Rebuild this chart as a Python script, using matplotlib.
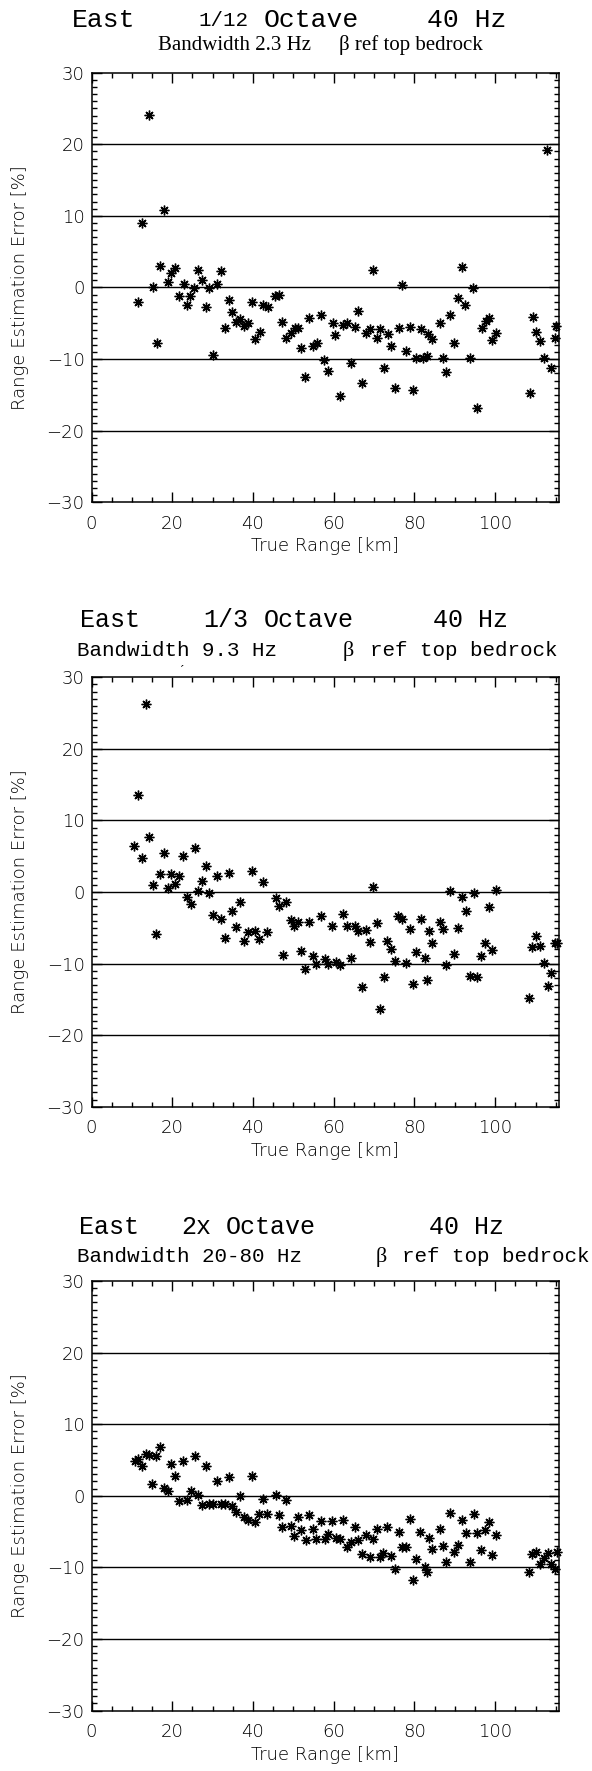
import numpy as np
import matplotlib.pyplot as plt

# True range [km] and range estimation error [%] for the three filter bands
range_12 = [11.4, 12.4, 14.2, 15.2, 16.2, 17.0, 18.0, 18.9, 19.8, 20.8, 21.7, 22.8, 23.6, 24.5, 25.5,
            26.4, 27.4, 28.3, 29.2, 30.2, 31.1, 32.0, 33.0, 34.0, 34.9, 35.9, 36.9, 37.7, 38.8, 39.7,
            40.6, 41.7, 42.5, 43.6, 45.4, 46.4, 47.3, 48.3, 49.3, 50.4, 51.2, 52.0, 53.0, 53.9, 54.8,
            55.9, 56.8, 57.7, 58.6, 59.7, 60.4, 61.5, 62.3, 63.3, 64.2, 65.2, 66.0, 67.0, 67.9, 68.9,
            69.8, 70.6, 71.4, 72.5, 73.4, 74.2, 75.1, 76.1, 77.0, 77.9, 78.8, 79.7, 80.5, 81.5, 82.1,
            83.2, 83.4, 84.4, 86.3, 87.1, 87.9, 88.9, 89.7, 90.8, 91.8, 92.6, 93.7, 94.6, 95.6, 96.8,
            97.7, 98.4, 99.3, 100.3, 108.5, 109.4, 110.2, 111.2, 112.0, 112.9, 113.9, 114.7, 115.1]
err_12 = [-2.1, 9.0, 24.1, 0.1, -7.75, 3.0, 10.8, 0.8, 1.95, 2.65, -1.2, 0.55, -2.5, -1.2, -0.05,
          2.4, 1.0, -2.7, -0.1, -9.5, 0.55, 2.3, -5.6, -1.7, -3.4, -4.8, -4.4, -5.4, -5.0, -2.1,
          -7.2, -6.25, -2.4, -2.8, -1.2, -1.1, -4.8, -7.1, -6.4, -5.7, -5.7, -8.4, -12.5, -4.2, -8.2,
          -7.75, -3.9, -10.2, -11.7, -4.9, -6.7, -15.1, -5.2, -5.0, -10.6, -5.5, -3.3, -13.4, -6.4, -5.8,
          2.4, -7.0, -5.8, -11.2, -6.5, -8.2, -14.0, -5.7, 0.3, -8.9, -5.5, -14.3, -9.9, -5.8, -9.8,
          -9.6, -6.5, -7.2, -5.0, -9.9, -11.8, -3.8, -7.8, -1.5, 2.8, -2.5, -9.8, -0.05, -16.8, -5.7,
          -4.7, -4.3, -7.4, -6.4, -14.8, -4.1, -6.2, -7.5, -9.8, 19.2, -11.3, -7.1, -5.4]

range_3 = [10.5, 11.4, 12.4, 13.4, 14.2, 15.2, 16.1, 17.0, 18.0, 18.9, 19.8, 20.8, 21.7, 22.7, 23.6,
           24.6, 25.6, 26.4, 27.4, 28.3, 29.2, 30.2, 31.1, 32.1, 33.0, 34.0, 34.9, 35.9, 36.8, 37.7,
           38.7, 39.7, 40.6, 41.6, 42.4, 43.5, 45.6, 46.4, 47.4, 48.3, 49.3, 50.1, 51.2, 52.0, 53.0,
           53.9, 54.9, 55.7, 56.8, 57.8, 58.6, 59.6, 60.5, 61.5, 62.3, 63.2, 64.2, 65.2, 66.0, 67.0,
           67.9, 68.9, 69.7, 70.6, 71.4, 72.4, 73.2, 74.3, 75.1, 75.9, 76.9, 77.8, 78.8, 79.7, 80.5,
           81.5, 82.5, 83.2, 83.5, 84.4, 86.3, 87.1, 87.9, 88.9, 89.8, 90.8, 91.8, 92.7, 93.7, 94.7,
           95.6, 96.6, 97.4, 98.5, 99.3, 100.2, 108.4, 109.2, 110.2, 111.2, 112.0, 113.0, 113.8, 114.7, 115.3]
err_3 = [6.5, 13.5, 4.7, 26.3, 7.7, 1.0, -5.8, 2.5, 5.5, 0.5, 2.5, 1.1, 2.3, 5.0, -0.7,
         -1.6, 6.15, 0.15, 1.6, 3.7, -0.1, -3.2, 2.2, -3.8, -6.4, 2.7, -2.6, -4.9, -1.45, -6.9,
         -5.6, 2.9, -5.4, -6.6, 1.4, -5.6, -0.9, -2.0, -8.8, -1.4, -3.9, -4.7, -4.2, -8.3, -10.7,
         -4.2, -9.0, -10.0, -3.4, -9.3, -10.0, -4.7, -9.8, -10.2, -3.1, -4.7, -9.2, -4.8, -5.45, -13.3,
         -5.3, -7.0, 0.7, -4.3, -16.3, -11.9, -6.8, -7.9, -9.65, -3.4, -3.7, -9.9, -5.1, -12.9, -8.4,
         -3.7, -9.2, -12.3, -5.45, -7.1, -4.2, -5.1, -10.2, 0.1, -8.6, -5.0, -0.7, -2.7, -11.75, -0.2,
         -11.9, -9.0, -7.1, -2.1, -8.15, 0.3, -14.8, -7.7, -6.2, -7.5, -9.9, -13.1, -11.3, -7.1, -7.1]

range_2x = [10.8, 11.4, 12.4, 13.4, 14.2, 15.1, 16.1, 17.0, 17.9, 18.9, 19.8, 20.8, 21.7, 22.7, 23.6,
            24.6, 25.6, 26.4, 27.4, 28.3, 29.2, 30.2, 31.1, 32.1, 33.0, 34.0, 34.9, 35.9, 36.8, 37.7,
            38.7, 39.7, 40.6, 41.6, 42.4, 43.5, 45.6, 46.4, 47.3, 48.3, 49.3, 50.2, 51.2, 52.0, 53.1,
            53.9, 54.9, 55.7, 56.8, 57.8, 58.6, 59.6, 60.5, 61.5, 62.3, 63.2, 64.2, 65.2, 66.0, 67.0,
            67.9, 68.9, 69.8, 70.6, 71.4, 72.2, 73.2, 74.3, 75.1, 76.1, 76.9, 77.8, 78.8, 79.7, 80.5,
            81.3, 82.5, 83.2, 83.5, 84.4, 86.3, 87.1, 87.9, 88.9, 89.8, 90.8, 91.8, 92.7, 93.7, 94.7,
            95.6, 96.6, 97.4, 98.5, 99.3, 100.1, 108.4, 109.2, 110.2, 111.0, 112.0, 113.0, 113.8, 114.7, 115.3]
err_2x = [4.8, 5.1, 4.2, 5.9, 5.7, 1.7, 5.5, 6.75, 1.1, 0.7, 4.5, 2.7, -0.8, 4.8, -0.55,
          0.6, 5.6, 0.15, -1.25, 4.1, -1.1, -1.1, 2.1, -1.1, -1.1, 2.6, -1.4, -2.3, 0.0, -2.9,
          -3.4, 2.7, -3.7, -2.6, -0.4, -2.5, 0.05, -2.75, -4.4, -0.65, -4.2, -5.6, -3.0, -4.75, -6.2,
          -2.65, -4.65, -6.05, -3.5, -6.1, -5.3, -3.5, -5.9, -6.05, -3.35, -7.2, -6.4, -4.4, -6.25, -8.15,
          -5.45, -8.6, -6.05, -4.6, -8.6, -8.0, -4.3, -8.4, -10.2, -5.0, -7.1, -7.2, -3.3, -11.8, -8.85,
          -5.1, -9.9, -10.7, -5.9, -7.45, -4.65, -7.0, -9.2, -2.4, -7.9, -6.85, -3.45, -5.2, -9.3, -2.55,
          -5.2, -7.6, -4.85, -3.7, -8.25, -5.45, -10.7, -8.1, -7.9, -9.6, -8.7, -8.0, -9.5, -10.3, -7.9]

ref_lines = [-20, -10, 0, 10, 20]
xticks = [0, 20, 40, 60, 80, 100]
yticks = [-30, -20, -10, 0, 10, 20, 30]

W, H = 592, 1771
MONO = 'Liberation Mono'
SERIF = 'Liberation Serif'
SANS = 'DejaVu Sans'

fig = plt.figure(figsize=(W / 100, H / 100), dpi=100)


def put(x, y, s, **kw):
    # place text by pixel position (from top-left)
    fig.text(x / W, 1 - y / H, s, ha='left', va='center', **kw)


def panel(top, rng, err):
    ax = fig.add_axes([91.5 / W, 1 - (top + 429.5) / H, 467.5 / W, 429.5 / H])
    for v in ref_lines:
        ax.axhline(v, color='black', lw=1.0, zorder=1)
    ax.plot(rng, err, ls='none', marker=(8, 2, 0), ms=7, mew=1.0,
            color='black', clip_on=False, zorder=3)
    ax.set_xlim(0, 115.8)
    ax.set_ylim(-30, 30)
    ax.set_xticks(xticks)
    ax.set_xticks(np.arange(0, 116, 5), minor=True)
    ax.set_yticks(yticks)
    ax.set_yticks(np.arange(-30, 31, 1), minor=True)
    ax.tick_params(which='both', direction='in', top=True, right=True,
                   labelsize=13, color='black')
    ax.tick_params(which='major', length=7, width=1)
    ax.tick_params(which='minor', length=3.5, width=1)
    ax.tick_params(axis='x', pad=9)
    ax.tick_params(axis='y', pad=5)
    for lab in ax.get_xticklabels() + ax.get_yticklabels():
        lab.set_family(SANS)
        lab.set_fontweight('light')
    for sp in ax.spines.values():
        sp.set_linewidth(1.1)
    ax.text(0.5, -44 / 429.5, 'True Range [km]', transform=ax.transAxes,
            ha='center', va='center', fontsize=13, family=SANS, fontweight='light')
    ax.text(-71.5 / 467.5, 0.5, 'Range Estimation Error [%]', transform=ax.transAxes,
            ha='center', va='center', rotation=90, fontsize=13, family=SANS, fontweight='light')
    return ax


panel(72.7, range_12, err_12)
panel(677.3, range_3, err_3)
panel(1281.0, range_2x, err_2x)

# panel 1 headings
put(72, 20, 'East', family=MONO, fontsize=19)
put(198, 21, '1/12', family=MONO, fontsize=15)
put(264, 20, 'Octave', family=MONO, fontsize=19)
put(427, 20, '40 Hz', family=MONO, fontsize=19)
put(158, 45, 'Bandwidth 2.3 Hz', family=SERIF, fontsize=15)
put(339, 45, '\u03b2 ref top bedrock', family=SERIF, fontsize=15)

# panel 2 headings
put(80, 620, 'East', family=MONO, fontsize=18)
put(203, 620, '1/3', family=MONO, fontsize=18)
put(264, 620, 'Octave', family=MONO, fontsize=18)
put(433, 620, '40 Hz', family=MONO, fontsize=18)
put(77, 651, 'Bandwidth 9.3 Hz', family=MONO, fontsize=15)
put(343, 651, '\u03b2', family=SERIF, fontsize=16)
put(370, 651, 'ref top bedrock', family=MONO, fontsize=15)
put(180, 671, '\u00b4', family=SERIF, fontsize=9)

# panel 3 headings
put(79, 1227, 'East', family=MONO, fontsize=18)
put(181, 1227, '2x', family=MONO, fontsize=18)
put(226, 1227, 'Octave', family=MONO, fontsize=18)
put(429, 1227, '40 Hz', family=MONO, fontsize=18)
put(77, 1257, 'Bandwidth 20-80 Hz', family=MONO, fontsize=15)
put(376, 1257, '\u03b2', family=SERIF, fontsize=16)
put(402, 1257, 'ref top bedrock', family=MONO, fontsize=15)

fig.savefig('out.png', dpi=100)
